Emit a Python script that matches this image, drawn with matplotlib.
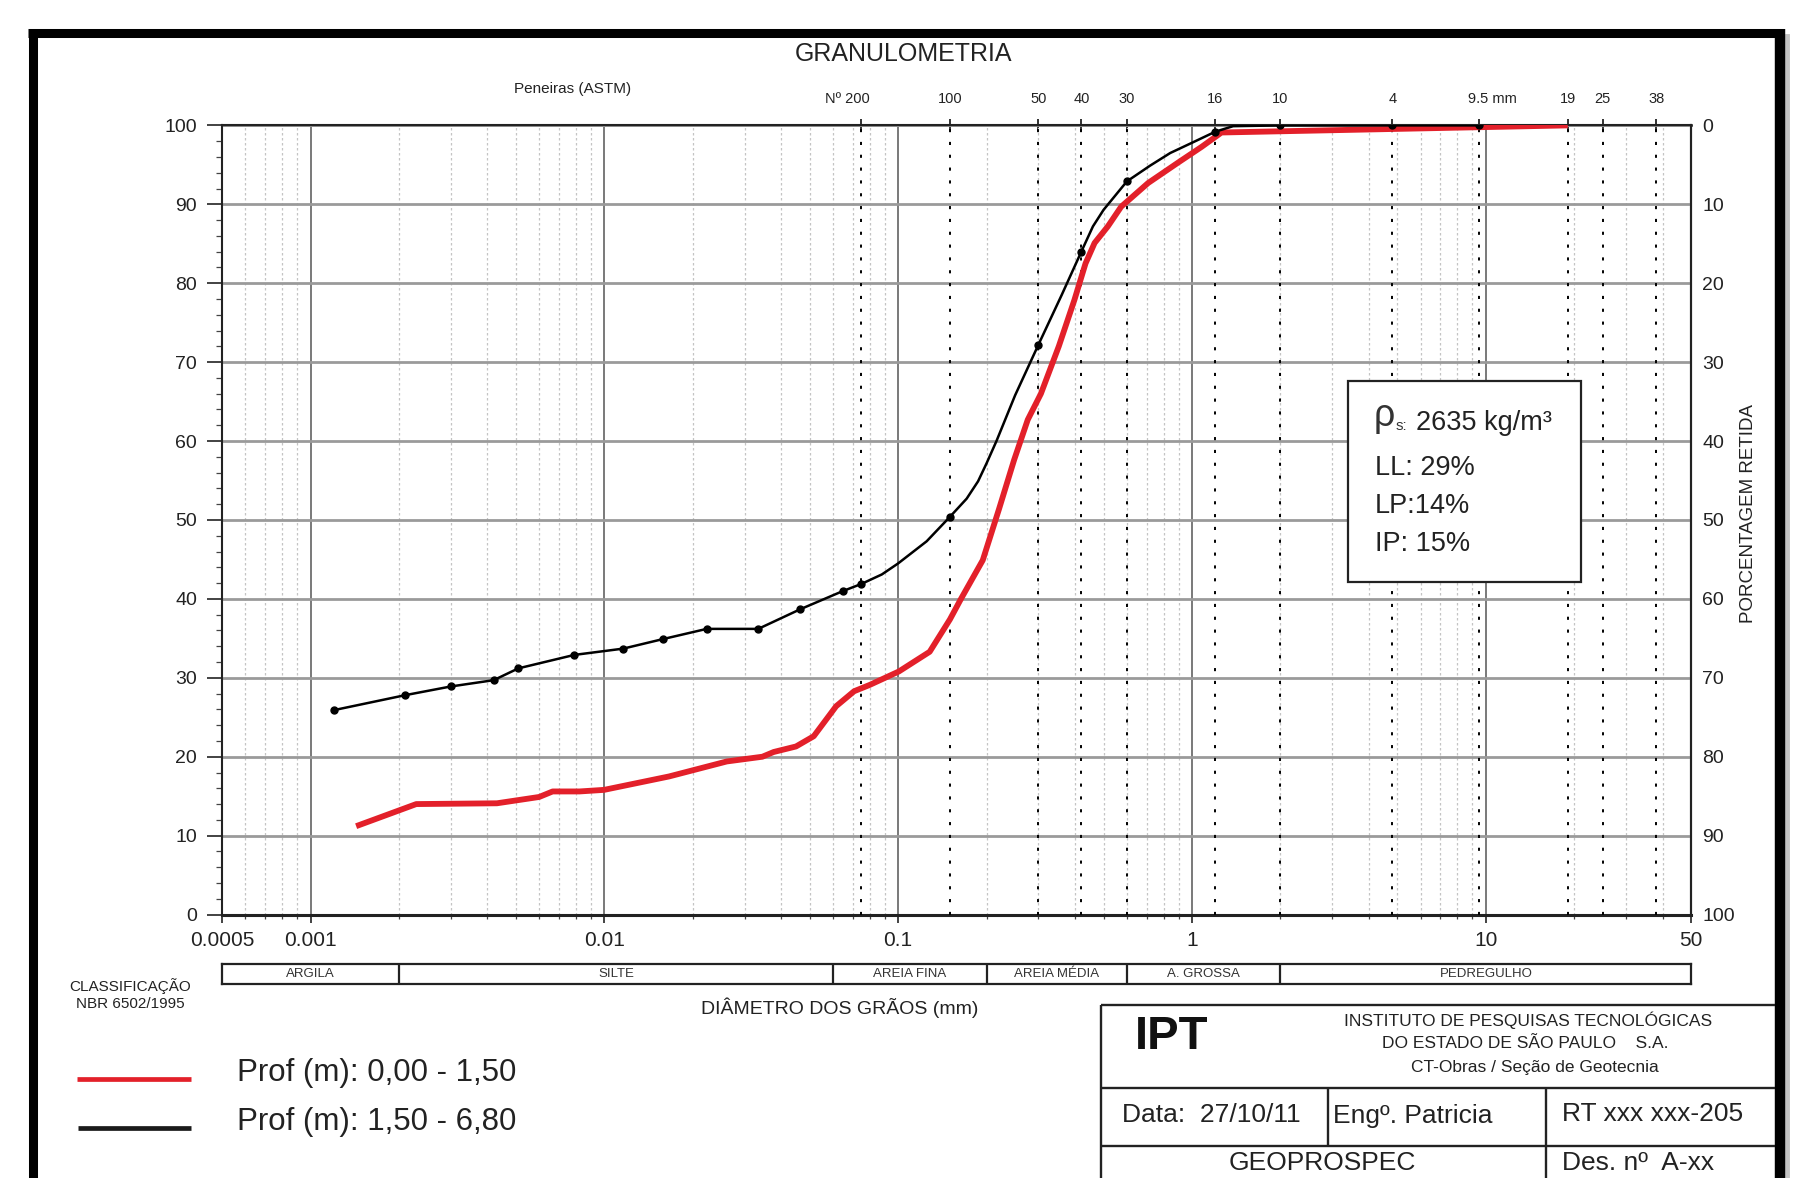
import matplotlib
matplotlib.use('Agg')
import matplotlib.pyplot as plt
import numpy as np
from matplotlib.ticker import FixedLocator, NullFormatter, LogLocator
from matplotlib.patches import Rectangle

plt.rcParams['font.family'] = ['Liberation Sans', 'DejaVu Sans']

# ---------------- data ----------------
# black curve: Prof 1,50 - 6,80  (grain diameter mm, % passing)
black_d = [0.0012, 0.0021, 0.0030, 0.0042, 0.0051, 0.0079, 0.0116, 0.0158, 0.0223,
           0.0334, 0.0465, 0.0649, 0.075, 0.088, 0.100, 0.125, 0.150, 0.171, 0.187,
           0.200, 0.216, 0.250, 0.300, 0.360, 0.420, 0.460, 0.500, 0.600, 0.720, 0.843,
           1.00, 1.20, 1.38, 2.0, 4.8, 9.5]
black_p = [25.9, 27.8, 28.9, 29.7, 31.2, 32.9, 33.7, 34.9, 36.2,
           36.2, 38.7, 41.0, 41.9, 43.1, 44.5, 47.3, 50.4, 52.7, 54.9,
           57.2, 60.0, 65.8, 72.2, 78.5, 84.0, 87.2, 89.3, 92.9, 94.9, 96.5,
           97.8, 99.2, 99.9, 100.0, 100.0, 100.0]
black_measured = [True, True, True, True, True, True, True, True, True,
                  True, True, True, True, False, False, False, True, False, False,
                  False, False, False, True, False, True, False, False, True, False, False,
                  False, True, False, True, True, True]

# red curve: Prof 0,00 - 1,50
red_d = [0.00143, 0.00229, 0.00431, 0.0060, 0.00667, 0.00823, 0.00998, 0.0166, 0.0261,
         0.0345, 0.0377, 0.0449, 0.0516, 0.0615, 0.0708, 0.080, 0.1005, 0.128, 0.150,
         0.163, 0.194, 0.220, 0.248, 0.276, 0.306, 0.352, 0.398, 0.434, 0.466, 0.517,
         0.574, 0.709, 0.906, 1.08, 1.26, 19.0]
red_p = [11.2, 14.0, 14.1, 14.9, 15.6, 15.6, 15.8, 17.5, 19.4,
         20.0, 20.6, 21.3, 22.6, 26.4, 28.3, 29.1, 30.8, 33.3, 37.4,
         39.9, 44.9, 51.3, 57.6, 62.7, 66.0, 72.0, 77.9, 82.5, 85.1, 87.2,
         89.7, 92.7, 95.4, 97.3, 99.1, 100.0]

sieve_labels = ['Nº 200', '100', '50', '40', '30', '16', '10', '4', '9.5 mm', '19', '25', '38']
sieve_mm = [0.075, 0.15, 0.3, 0.42, 0.6, 1.2, 2.0, 4.8, 9.5, 19, 25, 38]
sieve_label_dx = [-10.5, 0, 0, 0, 0, 0, 0, 0, 9.5, 0, 0, 0]   # label offset (pt)

x_ticks = [0.0005, 0.001, 0.01, 0.1, 1, 10, 50]
x_tick_labels = ['0.0005', '0.001', '0.01', '0.1', '1', '10', '50']
y_ticks = list(range(0, 101, 10))

class_bounds = [0.0005, 0.002, 0.06, 0.2, 0.6, 2.0, 50]
class_names = ['ARGILA', 'SILTE', 'AREIA FINA', 'AREIA MÉDIA', 'A. GROSSA', 'PEDREGULHO']

legend_labels = ['Prof (m): 0,00 - 1,50', 'Prof (m): 1,50 - 6,80']
soil_density = '2635 kg/m³'
soil_props = ['LL: 29%', 'LP:14%', 'IP: 15%']

RED = '#e3202a'

# ---------------- figure ----------------
W, H = 1568.0, 1024.0   # layout units of the (shrunk) reference
fig = plt.figure(figsize=(18.04, 11.78), dpi=100)
fig.patch.set_facecolor('white')

L, R, T, B = 193, 1470, 109, 795
ax = fig.add_axes([L / W, 1 - B / H, (R - L) / W, (B - T) / H])
ax.set_xscale('log')
ax.set_xlim(0.0005, 50)
ax.set_ylim(0, 100)

# grid
ax.xaxis.set_major_locator(FixedLocator(x_ticks))
ax.set_xticklabels(x_tick_labels)
ax.xaxis.set_minor_locator(LogLocator(base=10, subs=np.arange(2, 10), numticks=30))
ax.xaxis.set_minor_formatter(NullFormatter())
ax.yaxis.set_major_locator(FixedLocator(y_ticks))
ax.yaxis.set_minor_locator(FixedLocator(list(range(0, 101, 2))))
ax.grid(which='major', axis='x', color='#555555', lw=1.1, zorder=1)
ax.grid(which='minor', axis='x', color='#c4c4c4', lw=0.9, linestyle=(0, (2, 2)), zorder=1)
ax.grid(which='major', axis='y', color='#9a9a9a', lw=2.0, zorder=1)
ax.set_axisbelow(True)

ax.tick_params(axis='y', which='major', direction='out', length=11, width=1.2,
               labelsize=14, pad=7, colors='#222222')
ax.tick_params(axis='y', which='minor', direction='out', length=4, width=0.9, colors='#444444')
ax.tick_params(axis='x', which='major', direction='out', length=6, width=1.2,
               labelsize=15, pad=6, colors='#222222')
ax.tick_params(axis='x', which='minor', direction='out', length=3, width=0.9, colors='#444444')
for s in ax.spines.values():
    s.set_linewidth(1.5)
    s.set_color('#222222')
ax.spines['bottom'].set_linewidth(2.2)

# sieve dotted lines
for d in sieve_mm:
    ax.axvline(d, color='black', lw=1.4, linestyle=(0, (1.6, 5.0)), zorder=3)

# curves
ax.plot(red_d, red_p, color=RED, lw=4.2, solid_joinstyle='round', solid_capstyle='butt', zorder=5)
ax.plot(black_d, black_p, color='black', lw=1.8, solid_joinstyle='round', zorder=6)
bm_d = [d for d, m in zip(black_d, black_measured) if m]
bm_p = [p for p, m in zip(black_p, black_measured) if m]
ax.plot(bm_d, bm_p, 'o', color='black', ms=5, zorder=7)

# top: sieve ticks + labels
sec = ax.secondary_xaxis('top')
sec.xaxis.set_major_locator(FixedLocator(sieve_mm))
sec.xaxis.set_minor_locator(FixedLocator([]))
sec.xaxis.set_major_formatter(NullFormatter())
sec.tick_params(direction='inout', length=9, width=1.3, colors='#222222')
sec.spines['top'].set_linewidth(1.8)
for d, lab, dx in zip(sieve_mm, sieve_labels, sieve_label_dx):
    ax.annotate(lab, xy=(d, 1), xycoords=ax.get_xaxis_transform(),
                xytext=(dx, 14), textcoords='offset points', ha='center', va='bottom',
                fontsize=10.5, color='#222222')

# right axis: porcentagem retida
rax = ax.secondary_yaxis('right', functions=(lambda y: 100 - y, lambda y: 100 - y))
rax.yaxis.set_major_locator(FixedLocator(y_ticks))
rax.yaxis.set_minor_locator(FixedLocator([]))
rax.tick_params(length=0, labelsize=14, pad=8, colors='#222222')
rax.spines['right'].set_linewidth(1.5)

# classification bar
cax = fig.add_axes([L / W, 1 - 855 / H, (R - L) / W, (855 - 838) / H])
cax.set_xscale('log')
cax.set_xlim(class_bounds[0], class_bounds[-1])
cax.set_ylim(0, 1)
cax.set_xticks([])
cax.set_yticks([])
cax.xaxis.set_minor_locator(FixedLocator([]))
for s in cax.spines.values():
    s.set_linewidth(1.6)
    s.set_color('#222222')
for b in class_bounds[1:-1]:
    cax.axvline(b, color='#222222', lw=1.6)
for a, b, name in zip(class_bounds[:-1], class_bounds[1:], class_names):
    cax.text(np.sqrt(a * b), 0.5, name, ha='center', va='center', fontsize=9.5, color='#333333')

# ---------------- overlay (frame, texts, legend, title block) ----------------
ov = fig.add_axes([0, 0, 1, 1], zorder=10)
ov.set_xlim(0, W)
ov.set_ylim(H, 0)
ov.axis('off')
ov.patch.set_alpha(0)

# outer frame
ov.plot([1553, 1553], [31, 1030], color='#9a9a9a', lw=3.5, alpha=0.6)
ov.plot([28.3, 28.3], [25, 1030], color='black', lw=6.5, solid_capstyle='butt')
ov.plot([24.6, 1551], [28.7, 28.7], color='black', lw=6.5, solid_capstyle='butt')
ov.plot([1547, 1547], [25, 1030], color='black', lw=7.5, solid_capstyle='butt')

ov.text(785, 47, 'GRANULOMETRIA', ha='center', va='center', fontsize=18, color='#222222')
ov.text(498, 77, 'Peneiras (ASTM)', ha='center', va='center', fontsize=11, color='#222222')
ov.text(113, 857, 'CLASSIFICAÇÃO', ha='center', va='center', fontsize=11, color='#222222')
ov.text(113, 873, 'NBR 6502/1995', ha='center', va='center', fontsize=11, color='#222222')
ov.text(730, 876, 'DIÂMETRO DOS GRÃOS (mm)', ha='center', va='center', fontsize=14, color='#222222')
ov.text(1520, 446, 'PORCENTAGEM RETIDA', ha='center', va='center', rotation=90,
        fontsize=13.5, color='#222222')

# info box
ov.add_patch(Rectangle((1172, 331), 202, 175, facecolor='white', edgecolor='#222222', lw=1.6))
ov.text(1194, 362, 'ρ', ha='left', va='center', fontsize=27, color='#333333')
ov.text(1213, 370, 's:', ha='left', va='center', fontsize=11, color='#333333')
ov.text(1231, 368, soil_density, ha='left', va='center', fontsize=19.5, color='#222222')
for yy, txt in zip([407, 440, 473], soil_props):
    ov.text(1195, yy, txt, ha='left', va='center', fontsize=19.5, color='#222222')

# legend
ov.plot([67, 166], [938, 938], color=RED, lw=3.4, solid_capstyle='butt')
ov.plot([68, 166], [980.5, 980.5], color='#1a1a1a', lw=3.4, solid_capstyle='butt')
ov.text(206, 933, legend_labels[0], ha='left', va='center', fontsize=22.5, color='#222222')
ov.text(206, 975, legend_labels[1], ha='left', va='center', fontsize=22.5, color='#222222')

# title block
lk = dict(color='#222222', lw=1.7, solid_capstyle='butt')
ov.plot([957, 1543], [873.5, 873.5], **lk)
ov.plot([957, 1543], [946, 946], **lk)
ov.plot([957, 1543], [996, 996], **lk)
ov.plot([957, 957], [873.5, 1030], **lk)
ov.plot([1154, 1154], [946, 996], **lk)
ov.plot([1344, 1344], [946, 1030], **lk)
ov.text(986, 901, 'IPT', ha='left', va='center', fontsize=34, fontweight='bold', color='#111111')
ov.text(1328, 887, 'INSTITUTO DE PESQUISAS TECNOLÓGICAS', ha='center', va='center',
        fontsize=12.5, color='#222222')
ov.text(1326, 907, 'DO ESTADO DE SÃO PAULO    S.A.', ha='center', va='center',
        fontsize=12.5, color='#222222')
ov.text(1334, 928, 'CT-Obras / Seção de Geotecnia', ha='center', va='center',
        fontsize=12.5, color='#222222')
ov.text(975, 969, 'Data:  27/10/11', ha='left', va='center', fontsize=19, color='#222222')
ov.text(1159, 970, 'Engº. Patricia', ha='left', va='center', fontsize=19, color='#222222')
ov.text(1358, 968, 'RT xxx xxx-205', ha='left', va='center', fontsize=19, color='#222222')
ov.text(1149, 1011, 'GEOPROSPEC', ha='center', va='center', fontsize=19, color='#222222')
ov.text(1358, 1011, 'Des. nº  A-xx', ha='left', va='center', fontsize=19, color='#222222')

fig.savefig('out.png', dpi=100, facecolor='white')
